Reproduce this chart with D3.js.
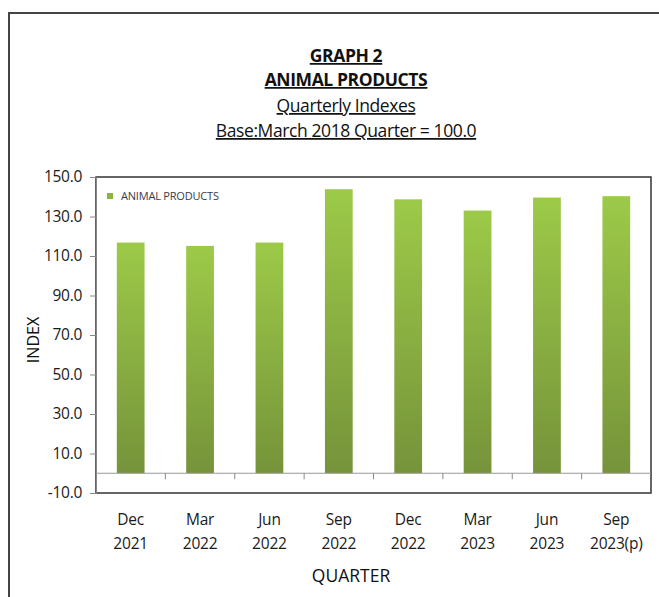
<!DOCTYPE html>
<html lang="en">
<head>
<meta charset="UTF-8">
<title>Graph 2 - Animal Products</title>
<script src="https://d3js.org/d3.v7.min.js"></script>
<style>
  body { margin: 0; background: #fff; }
  svg text { font-family: "Open Sans", "Noto Sans", sans-serif; }
</style>
</head>
<body>
<div id="chart"></div>
<script>
const quarters = ["Dec", "Mar", "Jun", "Sep", "Dec", "Mar", "Jun", "Sep"];
const years = ["2021", "2022", "2022", "2022", "2022", "2023", "2023", "2023(p)"];
const values = [116.8, 115.1, 116.8, 143.8, 138.7, 133.0, 139.6, 140.3];
const yTicks = [150, 130, 110, 90, 70, 50, 30, 10, -10];

const data = values.map((v, i) => ({ key: i, q: quarters[i], yr: years[i], value: v }));

const W = 659, H = 597;
const margin = { top: 177, right: 8, bottom: 104, left: 96 };
const width = W - margin.left - margin.right;
const height = H - margin.top - margin.bottom;

const svg = d3.select("#chart").append("svg")
  .attr("width", W).attr("height", H);

// outer frame
svg.append("rect")
  .attr("x", 9).attr("y", 13).attr("width", 700).attr("height", 700)
  .attr("fill", "none").attr("stroke", "#444").attr("stroke-width", 2);

const titles = [
  { t: "GRAPH 2", y: 62, bold: true },
  { t: "ANIMAL PRODUCTS", y: 86, bold: true },
  { t: "Quarterly Indexes", y: 112, bold: false },
  { t: "Base:March 2018 Quarter = 100.0", y: 137, bold: false }
];
titles.forEach(d => {
  svg.append("text")
    .attr("x", 346).attr("y", d.y)
    .attr("text-anchor", "middle")
    .attr("font-size", 17.5)
    .attr("font-weight", d.bold ? "bold" : "normal")
    .attr("text-decoration", "underline")
    .attr("fill", "#111")
    .attr("letter-spacing", "-0.4px")
    .text(d.t);
});

const defs = svg.append("defs");
const grad = defs.append("linearGradient")
  .attr("id", "barGrad").attr("x1", 0).attr("y1", 0).attr("x2", 0).attr("y2", 1);
grad.append("stop").attr("offset", "0%").attr("stop-color", "#9cca48");
grad.append("stop").attr("offset", "100%").attr("stop-color", "#76933a");

const g = svg.append("g").attr("transform", `translate(${margin.left},${margin.top})`);

const x = d3.scaleBand().domain(data.map(d => d.key)).range([0, width]).paddingInner(0.6).paddingOuter(0.3);
const y = d3.scaleLinear().domain([-10, 150]).range([height, 0]);

// plot border
g.append("rect")
  .attr("width", width).attr("height", height)
  .attr("fill", "none").attr("stroke", "#333").attr("stroke-width", 1.5);

g.selectAll(".bar")
  .data(data)
  .enter().append("rect")
  .attr("class", "bar")
  .attr("x", d => x(d.key))
  .attr("width", x.bandwidth())
  .attr("y", d => y(d.value))
  .attr("height", d => y(0) - y(d.value))
  .attr("fill", "url(#barGrad)");

// y axis (hyphen minus, like the original)
const yAxis = g.append("g")
  .call(d3.axisLeft(y).tickValues(yTicks).tickFormat(d => d.toFixed(1)).tickSize(6).tickPadding(8));
yAxis.select(".domain").attr("stroke", "#888");
yAxis.selectAll(".tick line").attr("stroke", "#888");
yAxis.selectAll(".tick text").attr("font-size", 15.5).attr("fill", "#1a1a1a")
  .attr("font-family", "'Open Sans', sans-serif").attr("letter-spacing", "-0.3px");

// zero line with category dividers
const step = x.step();
g.append("line")
  .attr("x1", 0).attr("x2", width)
  .attr("y1", y(0)).attr("y2", y(0))
  .attr("stroke", "#999");
g.selectAll(".divider")
  .data(d3.range(1, data.length))
  .enter().append("line")
  .attr("x1", i => x(i) - (step - x.bandwidth()) / 2)
  .attr("x2", i => x(i) - (step - x.bandwidth()) / 2)
  .attr("y1", y(0)).attr("y2", y(0) + 6)
  .attr("stroke", "#888");

// category labels
const labels = g.selectAll(".cat")
  .data(data).enter().append("text")
  .attr("text-anchor", "middle")
  .attr("font-size", 15.5)
  .attr("letter-spacing", "-0.2px")
  .attr("fill", "#1a1a1a");
labels.append("tspan")
  .attr("x", d => x(d.key) + x.bandwidth() / 2)
  .attr("y", height + 32)
  .text(d => d.q);
labels.append("tspan")
  .attr("x", d => x(d.key) + x.bandwidth() / 2)
  .attr("y", height + 56)
  .text(d => d.yr);

// axis titles
svg.append("text")
  .attr("x", 351).attr("y", 582)
  .attr("text-anchor", "middle")
  .attr("font-size", 17.5).attr("fill", "#111")
  .text("QUARTER");
svg.append("text")
  .attr("transform", "translate(39,340) rotate(-90)")
  .attr("text-anchor", "middle")
  .attr("font-size", 16).attr("fill", "#111")
  .text("INDEX");

// legend
svg.append("rect")
  .attr("x", 107).attr("y", 193).attr("width", 6).attr("height", 6)
  .attr("fill", "#8cb443");
svg.append("text")
  .attr("x", 121).attr("y", 200)
  .attr("font-size", 11).attr("fill", "#3a3a4a")
  .attr("letter-spacing", "-0.2px")
  .text("ANIMAL PRODUCTS");
</script>
</body>
</html>
